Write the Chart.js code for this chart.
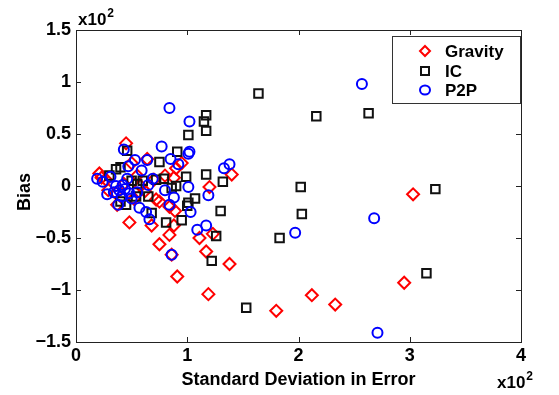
<!DOCTYPE html>
<html>
<head>
<meta charset="utf-8">
<script src="https://cdn.jsdelivr.net/npm/chart.js@4.4.1/dist/chart.umd.min.js"></script>
<style>
  html, body { margin: 0; padding: 0; background: #fff; }
  #wrap { width: 559px; height: 395px; }
</style>
</head>
<body>
<div id="wrap"><canvas id="chart" width="559" height="395"></canvas></div>
<script>
// values, in units of x10^2
const gravityX = [0.21,0.23,0.27,0.29,0.36,0.37,0.43,0.45,0.48,0.50,0.52,0.55,0.58,0.62,0.64,0.68,0.70,0.72,0.75,0.75,0.80,0.84,0.84,0.86,0.88,0.88,0.89,0.90,0.91,0.95,1.11,1.17,1.19,1.20,1.23,1.38,1.40,1.80,2.12,2.33,2.95,3.03];
const gravityY = [0.12,0.08,0.06,-0.04,-0.07,-0.18,0.02,0.41,-0.35,0.22,-0.12,0.10,0.00,-0.05,0.26,-0.38,0.06,-0.13,-0.15,-0.56,0.10,-0.20,-0.47,-0.66,0.08,-0.38,-0.24,0.17,-0.87,0.22,-0.50,-0.63,-1.04,-0.01,-0.46,-0.75,0.11,-1.20,-1.05,-1.14,-0.93,-0.08];

const icX = [0.30,0.36,0.40,0.40,0.45,0.46,0.50,0.54,0.55,0.60,0.65,0.68,0.72,0.75,0.79,0.81,0.86,0.90,0.91,0.95,0.99,1.00,1.01,1.01,1.07,1.15,1.17,1.17,1.17,1.22,1.26,1.30,1.32,1.53,1.64,1.83,2.02,2.03,2.16,2.63,3.15,3.23];
const icY = [0.10,0.16,0.18,-0.15,-0.18,0.34,0.05,-0.10,0.02,0.05,-0.10,-0.26,0.06,0.23,0.07,-0.35,-0.02,0.00,0.33,-0.33,0.09,-0.19,0.49,-0.16,-0.12,0.62,0.68,0.53,0.11,-0.72,-0.48,-0.24,0.04,-1.17,0.89,-0.50,-0.01,-0.27,0.67,0.70,-0.84,-0.03];

const p2pX = [0.19,0.24,0.28,0.31,0.34,0.36,0.38,0.39,0.41,0.42,0.43,0.44,0.46,0.47,0.48,0.50,0.53,0.55,0.57,0.59,0.63,0.64,0.65,0.66,0.69,0.77,0.80,0.84,0.84,0.85,0.86,0.88,0.92,1.01,1.01,1.02,1.02,1.03,1.09,1.17,1.19,1.33,1.38,1.97,2.57,2.68,2.71];
const p2pY = [0.07,0.04,-0.08,0.09,-0.06,0.00,-0.18,-0.04,-0.10,0.01,0.35,-0.03,0.07,0.19,-0.07,-0.12,0.25,-0.06,-0.21,0.15,-0.25,0.25,0.01,-0.32,0.07,0.38,-0.04,0.75,-0.18,0.26,-0.66,-0.11,0.21,0.31,-0.01,0.62,0.33,-0.25,-0.42,-0.38,-0.09,0.17,0.21,-0.45,0.98,-0.31,-1.41];

const seriesNames = ['Gravity', 'IC', 'P2P'];
const xTickValues = [0, 1, 2, 3, 4];
const xTickLabels = ['0', '1', '2', '3', '4'];
const yTickValues = [-1.5, -1, -0.5, 0, 0.5, 1, 1.5];
const yTickLabels = ['\u22121.5', '\u22121', '\u22120.5', '0', '0.5', '1', '1.5'];

const FONT = '"Liberation Sans", Arial, Helvetica, sans-serif';

function toPoints(xs, ys) {
  return xs.map((x, i) => ({ x: x, y: ys[i] }));
}

// frame, inward ticks on all four sides, multiplier labels, y title, legend
const decorations = {
  id: 'decorations',
  afterDraw(chart) {
    const { ctx, chartArea: a, scales } = chart;
    ctx.save();
    ctx.strokeStyle = '#222';
    ctx.lineWidth = 1;
    ctx.strokeRect(a.left + 0.5, a.top + 0.5, a.right - a.left, a.bottom - a.top);

    ctx.beginPath();
    xTickValues.forEach(v => {
      const px = Math.round(scales.x.getPixelForValue(v)) + 0.5;
      ctx.moveTo(px, a.bottom); ctx.lineTo(px, a.bottom - 5);
      ctx.moveTo(px, a.top); ctx.lineTo(px, a.top + 5);
    });
    yTickValues.forEach(v => {
      const py = Math.round(scales.y.getPixelForValue(v)) + 0.5;
      ctx.moveTo(a.left, py); ctx.lineTo(a.left + 5, py);
      ctx.moveTo(a.right, py); ctx.lineTo(a.right - 5, py);
    });
    ctx.stroke();

    // x10^2 labels
    ctx.fillStyle = '#000';
    ctx.textBaseline = 'alphabetic';
    ctx.textAlign = 'left';
    function mult(x, y) {
      ctx.font = 'bold 17px ' + FONT;
      ctx.fillText('x10', x, y);
      const w = ctx.measureText('x10').width;
      ctx.font = 'bold 12px ' + FONT;
      ctx.fillText('2', x + w + 1, y - 8);
    }
    mult(78, 25);
    mult(497, 388);

    // y title
    ctx.font = 'bold 18px ' + FONT;
    ctx.save();
    ctx.translate(30, 192);
    ctx.rotate(-Math.PI / 2);
    ctx.textAlign = 'center';
    ctx.fillText('Bias', 0, 0);
    ctx.restore();

    // legend
    const bx = 392, by = 36, bw = 128, bh = 67;
    ctx.fillStyle = '#fff';
    ctx.fillRect(bx, by, bw, bh);
    ctx.strokeStyle = '#333';
    ctx.strokeRect(bx + 0.5, by + 0.5, bw, bh);
    const rows = [51, 71, 90];
    chart.data.datasets.forEach((ds, i) => {
      const cx = 425, cy = rows[i];
      ctx.strokeStyle = ds.borderColor;
      ctx.lineWidth = 2;
      ctx.beginPath();
      if (ds.pointStyle === 'rectRot') {
        ctx.moveTo(cx, cy - 5); ctx.lineTo(cx + 5, cy); ctx.lineTo(cx, cy + 5); ctx.lineTo(cx - 5, cy); ctx.closePath();
      } else if (ds.pointStyle === 'rect') {
        ctx.rect(cx - 4, cy - 4, 8, 8);
      } else {
        ctx.ellipse(cx, cy, 5, 4.5, 0, 0, Math.PI * 2);
      }
      ctx.stroke();
      ctx.fillStyle = '#000';
      ctx.font = 'bold 17px ' + FONT;
      ctx.textAlign = 'left';
      ctx.textBaseline = 'middle';
      ctx.fillText(ds.label, 445, cy + 1);
    });
    ctx.restore();
  }
};

const ctx = document.getElementById('chart').getContext('2d');
new Chart(ctx, {
  type: 'scatter',
  data: {
    datasets: [
      {
        label: seriesNames[0],
        data: toPoints(gravityX, gravityY),
        pointStyle: 'rectRot',
        pointRadius: 6,
        borderColor: '#ff0000',
        backgroundColor: 'rgba(0,0,0,0)',
        borderWidth: 2,
        order: 3
      },
      {
        label: seriesNames[1],
        data: toPoints(icX, icY),
        pointStyle: 'rect',
        pointRadius: 6,
        borderColor: '#111111',
        backgroundColor: 'rgba(0,0,0,0)',
        borderWidth: 2,
        order: 2
      },
      {
        label: seriesNames[2],
        data: toPoints(p2pX, p2pY),
        pointStyle: 'circle',
        pointRadius: 5,
        borderColor: '#0000ff',
        backgroundColor: 'rgba(0,0,0,0)',
        borderWidth: 2,
        order: 1
      }
    ]
  },
  options: {
    responsive: false,
    animation: false,
    devicePixelRatio: 1,
    layout: { padding: { left: 0, top: 30, right: 38, bottom: 0 } },
    plugins: { legend: { display: false }, tooltip: { enabled: false } },
    scales: {
      x: {
        type: 'linear', min: 0, max: 4,
        afterFit: s => { s.height = 53; },
        afterBuildTicks: s => { s.ticks = xTickValues.map(v => ({ value: v })); },
        grid: { display: false, drawTicks: false },
        border: { display: false },
        ticks: {
          padding: 3, color: '#000',
          font: { family: FONT, size: 18, weight: 'bold' },
          callback: v => xTickLabels[xTickValues.indexOf(v)]
        },
        title: {
          display: true, text: 'Standard Deviation in Error', color: '#000',
          font: { family: FONT, size: 18, weight: 'bold' },
          padding: { top: 0, bottom: 4 }
        }
      },
      y: {
        type: 'linear', min: -1.5, max: 1.5,
        afterFit: s => { s.width = 76; },
        afterBuildTicks: s => { s.ticks = yTickValues.map(v => ({ value: v })); },
        grid: { display: false, drawTicks: false },
        border: { display: false },
        ticks: {
          padding: 5, color: '#000',
          font: { family: FONT, size: 18, weight: 'bold' },
          callback: v => yTickLabels[yTickValues.indexOf(v)]
        }
      }
    }
  },
  plugins: [decorations]
});
</script>
</body>
</html>
